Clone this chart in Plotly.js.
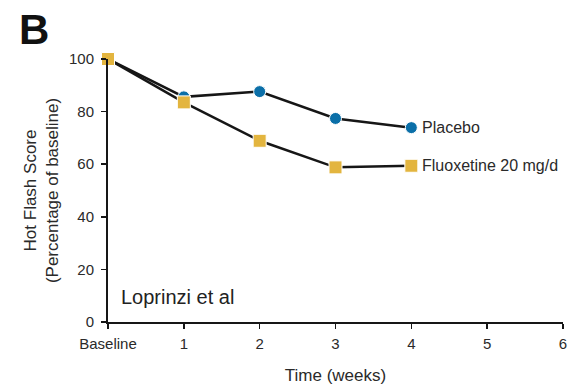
<!DOCTYPE html>
<html>
<head>
<meta charset="utf-8">
<script src="https://cdn.plot.ly/plotly-3.0.1.min.js"></script>
<style>html,body{margin:0;padding:0;background:#fff;}#chart{width:568px;height:390px;}</style>
</head>
<body>
<div id="chart"></div>
<script>
// Data
const weeks = [0, 1, 2, 3, 4];
const placebo = [100, 85.6, 87.6, 77.4, 73.9];
const fluoxetine = [100, 83.5, 68.9, 58.8, 59.4];
const seriesNames = ["Placebo", "Fluoxetine 20 mg/d"];
const xTickVals = [0, 1, 2, 3, 4, 5, 6];
const xTickText = ["Baseline", "1", "2", "3", "4", "5", "6"];
const yTickVals = [0, 20, 40, 60, 80, 100];

const FONT = '"Liberation Sans", Arial, Helvetica, sans-serif';
const LINE = '#161616';

const traces = [
  {
    x: weeks, y: placebo, name: seriesNames[0], type: 'scatter', mode: 'lines+markers',
    line: {color: LINE, width: 2.5},
    marker: {symbol: 'circle', size: 12, color: '#0b6fa8', line: {color: '#ffffff', width: 1}},
    cliponaxis: false
  },
  {
    x: weeks, y: fluoxetine, name: seriesNames[1], type: 'scatter', mode: 'lines+markers',
    line: {color: LINE, width: 2.5},
    marker: {symbol: 'square', size: 13, color: '#e3b53f', line: {color: '#ffffff', width: 1}},
    cliponaxis: false
  }
];

const last = weeks.length - 1;
const layout = {
  width: 568, height: 390,
  margin: {l: 108, r: 5, t: 59, b: 68},
  paper_bgcolor: '#fff', plot_bgcolor: '#fff',
  showlegend: false,
  font: {family: FONT, color: '#2a2a2a'},
  xaxis: {
    range: [0, 6], tickvals: xTickVals, ticktext: xTickText,
    showgrid: false, zeroline: false, showline: true, linecolor: LINE, linewidth: 2,
    ticks: 'outside', ticklen: 5, tickwidth: 1.5, tickcolor: LINE,
    tickfont: {size: 15, color: '#2a2a2a', family: FONT},
    ticklabelstandoff: 2,
    title: {text: 'Time (weeks)', font: {size: 17, color: '#2a2a2a', family: FONT}, standoff: 18},
    automargin: false, fixedrange: true
  },
  yaxis: {
    range: [0, 100], tickvals: yTickVals,
    showgrid: false, zeroline: false, showline: true, linecolor: LINE, linewidth: 2,
    ticks: 'outside', ticklen: 5, tickwidth: 1.5, tickcolor: LINE,
    tickfont: {size: 15, color: '#2a2a2a', family: FONT},
    ticklabelstandoff: 4,
    title: {text: 'Hot Flash Score<br>(Percentage of baseline)', font: {size: 17, color: '#2a2a2a', family: FONT}, standoff: 6},
    automargin: false, fixedrange: true
  },
  annotations: [
    {x: weeks[last], y: placebo[last], xref: 'x', yref: 'y', text: seriesNames[0], showarrow: false,
     xanchor: 'left', yanchor: 'middle', xshift: 9, font: {size: 16, color: '#2a2a2a', family: FONT}},
    {x: weeks[last], y: fluoxetine[last], xref: 'x', yref: 'y', text: seriesNames[1], showarrow: false,
     xanchor: 'left', yanchor: 'middle', xshift: 9, font: {size: 16, color: '#2a2a2a', family: FONT}},
    {x: 0.025, y: 0.095, xref: 'paper', yref: 'paper', text: 'Loprinzi et al', showarrow: false,
     xanchor: 'left', yanchor: 'middle', font: {size: 20, color: '#222', family: FONT}},
    {x: -0.2, y: 1.112, xref: 'paper', yref: 'paper', text: '<b>B</b>', showarrow: false,
     xanchor: 'left', yanchor: 'middle', font: {size: 42, color: '#111', family: FONT}}
  ]
};

Plotly.newPlot('chart', traces, layout, {staticPlot: true, displayModeBar: false});
</script>
</body>
</html>
